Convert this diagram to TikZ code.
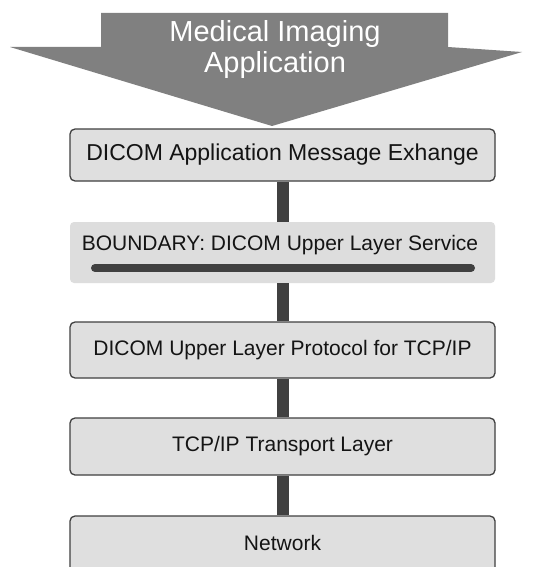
\documentclass[tikz,border=0pt]{standalone}
\usepackage{fontspec}
\setmainfont{Liberation Sans}
\definecolor{arrowgray}{HTML}{808080}
\definecolor{boxfill}{HTML}{DFDFDF}
\definecolor{boundfill}{HTML}{DDDDDD}
\definecolor{linkgray}{HTML}{404040}
\definecolor{textdark}{HTML}{141414}
\tikzset{labelfont/.style={text=textdark, font=\fontsize{21}{25}\selectfont}}
\begin{document}
\begin{tikzpicture}[x=1pt,y=-1pt,
  layerbox/.style={draw=linkgray, line width=1.3pt, fill=boxfill, rounded corners=5pt,
    minimum width=425pt, inner sep=0pt, labelfont},
  link/.style={draw=linkgray, line width=12pt},
]
\useasboundingbox (0,0) rectangle (544,567);
\clip (0,0) rectangle (544,567);
\fill[white] (0,0) rectangle (544,567);

% big downward arrow with the application name
\fill[arrowgray] (101,13) -- (448,13) -- (448,47) -- (522,52) -- (272,126)
  -- (10,47) -- (101,47) -- cycle;
\node[text=white, align=center, font=\fontsize{29}{31}\selectfont] (app) at (275,50)
  {Medical Imaging\\Application};

% protocol layers
\node[layerbox, minimum height=52pt, font=\fontsize{23}{27}\selectfont] (msg) at (282.5,155)
  {DICOM Application Message Exhange};
\node[fill=boundfill, rounded corners=4pt, minimum width=425pt, minimum height=61pt,
  inner sep=0pt] (bound) at (282.5,252.5) {};
\node[labelfont] (boundtxt) at (280,245)
  {BOUNDARY: DICOM Upper Layer Service};
\coordinate (barL) at (95,268);
\coordinate (barR) at (471,268);
\draw[linkgray, line width=8pt, line cap=round] (barL) -- (barR);
\node[layerbox, minimum height=56pt] (ulp) at (282.5,350) {DICOM Upper Layer Protocol for TCP/IP};
\node[layerbox, minimum height=57pt] (tcp) at (282.5,446.5) {TCP/IP Transport Layer};
\node[layerbox, minimum height=60pt] (net) at (282.5,546) {};
\node[labelfont] (nettxt) at (282.5,543) {Network};

% links between layers
\draw[link] ([xshift=0.5pt]msg.south) -- ([xshift=0.5pt]bound.north);
\draw[link] ([xshift=0.5pt]bound.south) -- ([xshift=0.5pt]ulp.north);
\draw[link] ([xshift=0.5pt]ulp.south) -- ([xshift=0.5pt]tcp.north);
\draw[link] ([xshift=0.5pt]tcp.south) -- ([xshift=0.5pt]net.north);
\end{tikzpicture}
\end{document}
